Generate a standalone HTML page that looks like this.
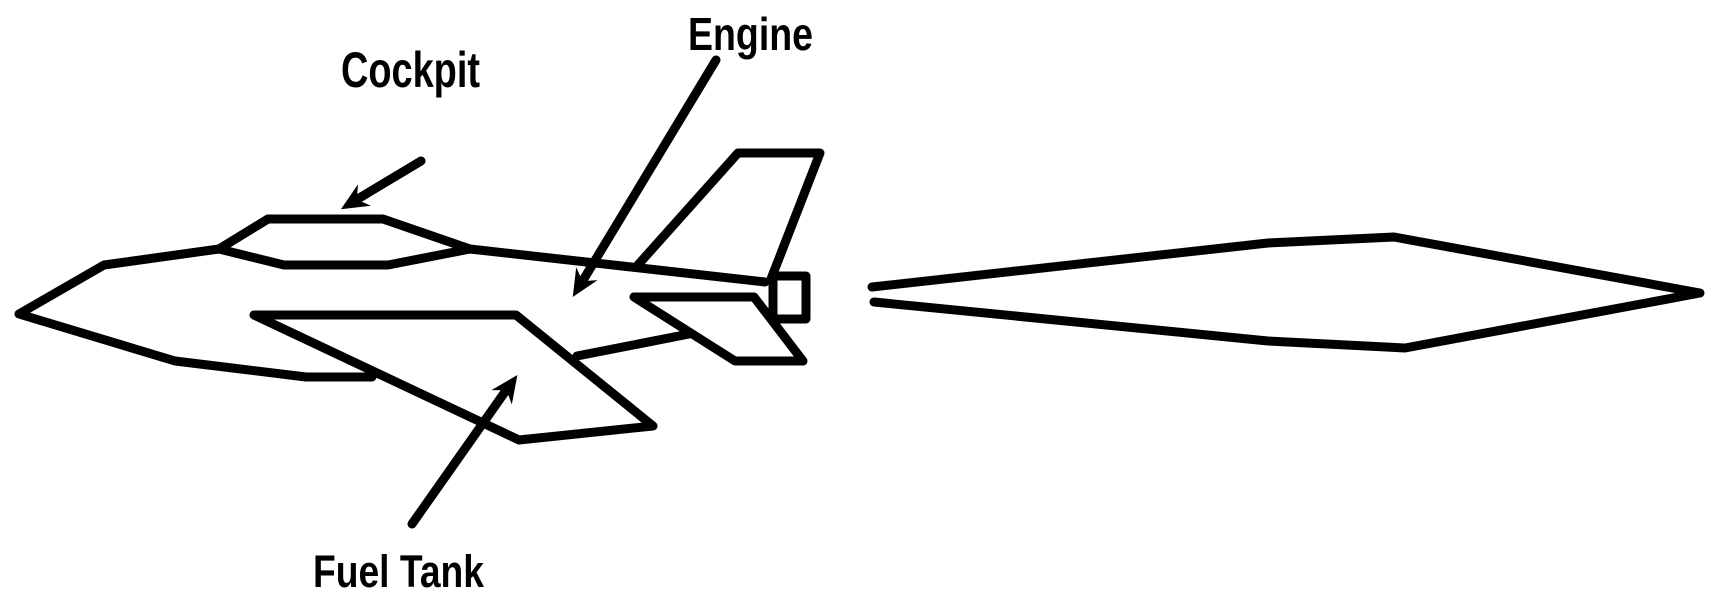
<!DOCTYPE html>
<html><head><meta charset="utf-8"><style>
html,body{margin:0;padding:0;background:#fff;}
svg{display:block;}
text{font-family:"Liberation Sans Narrow","Liberation Sans",sans-serif;font-weight:bold;fill:#000;}
</style></head><body>
<svg width="1714" height="598" viewBox="0 0 1714 598" xmlns="http://www.w3.org/2000/svg">
<g fill="none" stroke="#000" stroke-width="9" stroke-linejoin="round" stroke-linecap="round">
<polyline points="219,249 104,265 19,314 175,361 306,377 372,377"/>
<polyline points="470,249 765,282"/>
<polygon points="219,249 268,219 383,219 470,249 388,265 284,265"/>
<polygon points="254,315 516,315 653,426 519,440"/>
<polyline points="577,356 689,334"/>
<polygon points="634,297 754,297 803,361 735,361"/>
<polyline points="637,266 738,153 820,153 771,279"/>
<rect x="773" y="276" width="33" height="43"/>
<polyline points="872,287 1268,243 1394,237 1700,293 1405,348 1268,341 874,302"/>
<line x1="421" y1="161" x2="356" y2="200"/>
<line x1="716" y1="60" x2="582" y2="282"/>
<line x1="412" y1="524" x2="507" y2="389"/>
</g>
<g fill="#000" stroke="#000" stroke-width="2" stroke-linejoin="miter">
<polygon points="343,208 356.7,188 355.9,200.3 367.1,205.2"/>
<polygon points="574,295 576.8,271 581.8,282.2 594,281.4"/>
<polygon points="516,377 511.5,400.8 507.3,389.3 495.1,389.2"/>
</g>
<text x="341" y="87" font-size="50" textLength="139" lengthAdjust="spacingAndGlyphs">Cockpit</text>
<text x="688" y="50" font-size="46" textLength="125" lengthAdjust="spacingAndGlyphs">Engine</text>
<text x="313" y="587" font-size="45" textLength="171" lengthAdjust="spacingAndGlyphs">Fuel Tank</text>
</svg>
</body></html>
